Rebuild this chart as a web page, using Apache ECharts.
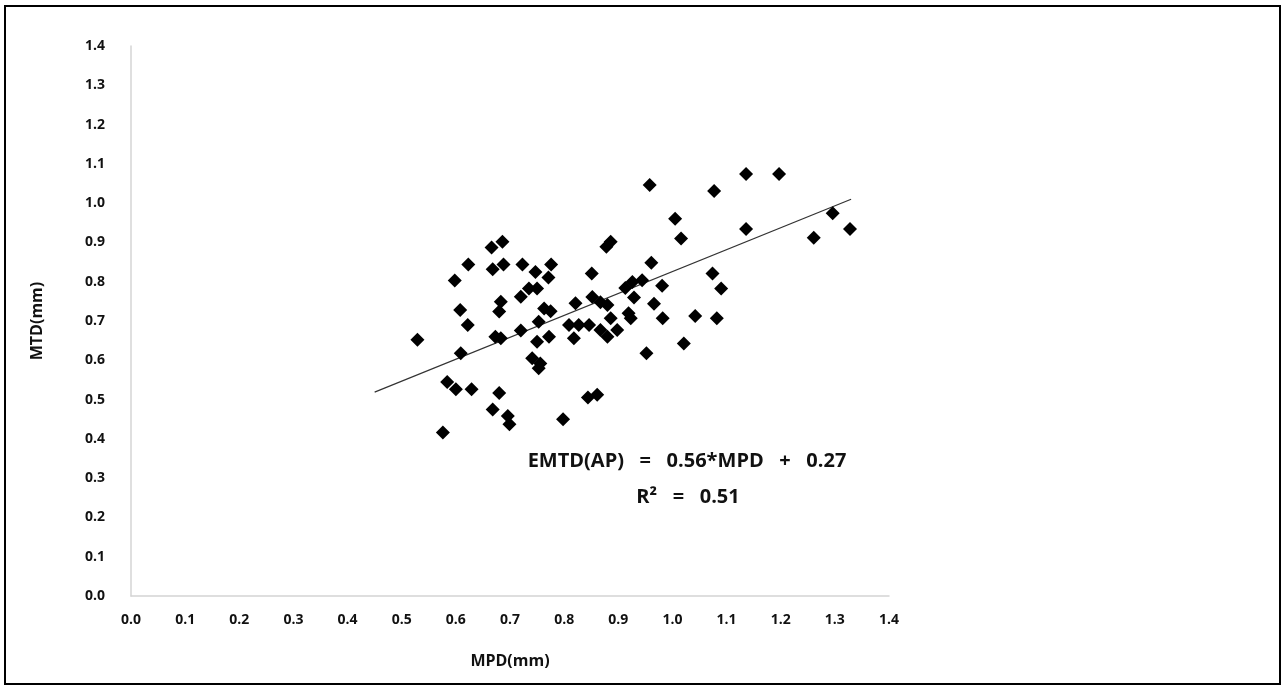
<!DOCTYPE html>
<html>
<head>
<meta charset="utf-8">
<script src="https://cdn.jsdelivr.net/npm/echarts@6/dist/echarts.min.js"></script>
<style>
  html, body { margin: 0; padding: 0; background: #fff; }
  #chart { width: 1285px; height: 687px; }
</style>
</head>
<body>
<div id="chart"></div>
<script>
// MPD (x) and MTD (y) values
const mpd = [
  0.529, 0.576, 0.584, 0.600, 0.598, 0.608, 0.609, 0.622, 0.623, 0.629,
  0.666, 0.686, 0.668, 0.688, 0.673, 0.683, 0.680, 0.668, 0.696, 0.699,
  0.683, 0.680, 0.723, 0.720, 0.720, 0.747, 0.735, 0.750, 0.753, 0.772,
  0.750, 0.741, 0.756, 0.753, 0.776, 0.771, 0.763, 0.775, 0.798, 0.809,
  0.827, 0.818, 0.821, 0.851, 0.844, 0.861, 0.846, 0.852, 0.867, 0.880,
  0.878, 0.886, 0.867, 0.880, 0.886, 0.898, 0.913, 0.926, 0.944, 0.929,
  0.919, 0.923, 0.958, 0.961, 0.966, 0.981, 0.982, 0.952, 1.005, 1.016,
  1.021, 1.042, 1.077, 1.074, 1.090, 1.082, 1.136, 1.136, 1.197, 1.261,
  1.296, 1.328
]
const mtd = [
  0.652, 0.416, 0.545, 0.526, 0.803, 0.728, 0.618, 0.690, 0.844, 0.526,
  0.887, 0.902, 0.832, 0.844, 0.660, 0.656, 0.517, 0.475, 0.458, 0.437,
  0.749, 0.724, 0.844, 0.762, 0.676, 0.825, 0.783, 0.783, 0.698, 0.660,
  0.647, 0.605, 0.592, 0.580, 0.844, 0.811, 0.732, 0.725, 0.450, 0.690,
  0.690, 0.656, 0.745, 0.821, 0.505, 0.512, 0.690, 0.761, 0.748, 0.741,
  0.889, 0.902, 0.677, 0.660, 0.707, 0.677, 0.784, 0.799, 0.804, 0.760,
  0.720, 0.707, 1.046, 0.848, 0.744, 0.790, 0.707, 0.618, 0.960, 0.910,
  0.643, 0.713, 1.031, 0.821, 0.783, 0.707, 1.074, 0.934, 1.074, 0.912,
  0.974, 0.934
]
// trend line end points as drawn
const trendX = [0.45, 1.33]
const trendY = [0.519, 1.010]
const ticks = ['0.0','0.1','0.2','0.3','0.4','0.5','0.6','0.7','0.8','0.9','1.0','1.1','1.2','1.3','1.4']

const chart = echarts.init(document.getElementById('chart'))
const font = '"Open Sans", "Liberation Sans", sans-serif'
const ink = '#111'
const axisColor = '#d4d4d4'
const labelStyle = { color: ink, fontSize: 14, fontWeight: 'bold', fontFamily: font }
const nameStyle = { color: ink, fontSize: 16, fontWeight: 'bold', fontFamily: font }

const option = {
  backgroundColor: '#fff',
  animation: false,
  grid: { left: 131, right: 396, top: 46, bottom: 91 },
  xAxis: {
    type: 'value',
    min: 0, max: 1.4, interval: 0.1,
    name: 'MPD(mm)',
    nameLocation: 'middle',
    nameGap: 57,
    nameTextStyle: nameStyle,
    axisLine: { show: true, lineStyle: { color: axisColor, width: 1.5 } },
    axisTick: { show: false },
    splitLine: { show: false },
    axisLabel: { ...labelStyle, margin: 17, formatter: v => ticks[Math.round(v * 10)] }
  },
  yAxis: {
    type: 'value',
    min: 0, max: 1.4, interval: 0.1,
    name: 'MTD(mm)',
    nameLocation: 'middle',
    nameGap: 86,
    nameRotate: 90,
    nameTextStyle: nameStyle,
    axisLine: { show: true, lineStyle: { color: axisColor, width: 1.5 } },
    axisTick: { show: false },
    splitLine: { show: false },
    axisLabel: { ...labelStyle, margin: 26, formatter: v => ticks[Math.round(v * 10)] }
  },
  graphic: [
    {
      type: 'rect',
      shape: { x: 5, y: 6, width: 1275, height: 678 },
      style: { fill: 'none', stroke: '#000', lineWidth: 2 },
      silent: true
    },
    {
      type: 'text',
      x: 687, y: 461,
      style: {
        text: 'EMTD(AP)   =   0.56*MPD   +   0.27',
        fill: ink, font: 'bold 20px ' + font,
        align: 'center', verticalAlign: 'middle'
      }
    },
    {
      type: 'text',
      x: 688, y: 497,
      style: {
        text: 'R²   =   0.51',
        fill: ink, font: 'bold 20px ' + font,
        align: 'center', verticalAlign: 'middle'
      }
    }
  ],
  series: [
    {
      type: 'line',
      data: trendX.map((x, i) => [x, trendY[i]]),
      symbol: 'none',
      lineStyle: { color: '#333', width: 1.2 },
      z: 1
    },
    {
      type: 'scatter',
      data: mpd.map((x, i) => [x, mtd[i]]),
      symbol: 'diamond',
      symbolSize: [14, 14],
      itemStyle: { color: '#000', opacity: 1 },
      z: 2
    }
  ]
}
chart.setOption(option)
</script>
</body>
</html>
